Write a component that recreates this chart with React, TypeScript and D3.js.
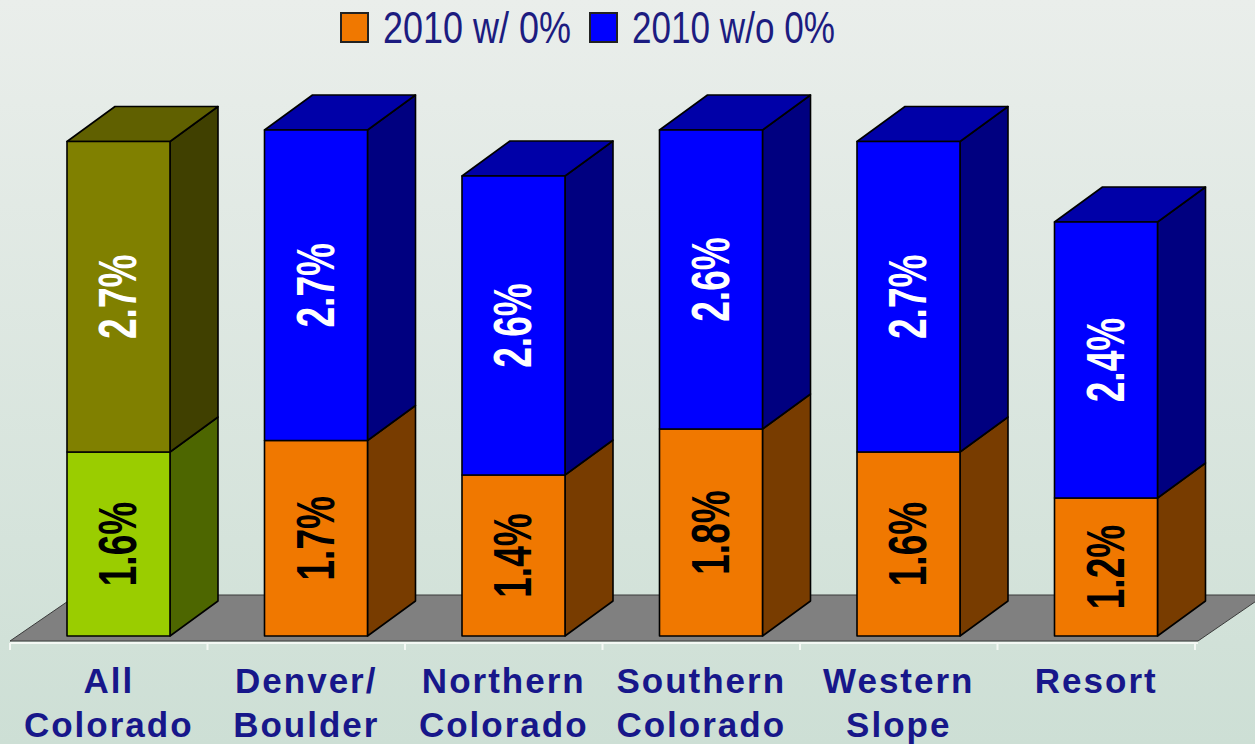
import React from "react";
import * as d3 from "d3";

const categories = [["All", "Colorado"], ["Denver/", "Boulder"], ["Northern", "Colorado"], ["Southern", "Colorado"], ["Western", "Slope"], ["Resort"]];
const withZero = [1.6, 1.7, 1.4, 1.8, 1.6, 1.2];
const withoutZero = [2.7, 2.7, 2.6, 2.6, 2.7, 2.4];
const seriesNames = ["2010 w/ 0%", "2010 w/o 0%"];

const W = 1255;
const H = 744;
const DX = 48;
const DY = -35;
const FDX = 67;
const FDY = -46;

const palette = {
  orange: { front: "#F07800", side: "#783C00", top: "#B45A00" },
  blue: { front: "#0000FF", side: "#000080", top: "#0000A8" },
  green: { front: "#9ACD00", side: "#4D6600", top: "#739A00" },
  olive: { front: "#808000", side: "#404000", top: "#606000" },
};

export default function App() {
  const keys = categories.map((c) => c.join(" "));
  const x = d3.scaleBand<string>().domain(keys).range([10, 1195]).paddingInner(0).paddingOuter(0);
  const y = d3.scaleLinear().domain([0, 5]).range([636, 61]);
  const barW = 103;
  const barOffset = 57;
  const floorY = 641;
  const [x0, x1] = x.range();

  const box = (xl: number, yb: number, yt: number, c: { front: string; side: string; top: string }, drawTop: boolean, key: string) => {
    const xr = xl + barW;
    return (
      <g key={key} stroke="#000" strokeWidth={1.6} strokeLinejoin="round">
        <polygon points={`${xr},${yb} ${xr + DX},${yb + DY} ${xr + DX},${yt + DY} ${xr},${yt}`} fill={c.side} />
        {drawTop && <polygon points={`${xl},${yt} ${xl + DX},${yt + DY} ${xr + DX},${yt + DY} ${xr},${yt}`} fill={c.top} />}
        <rect x={xl} y={yt} width={barW} height={yb - yt} fill={c.front} />
      </g>
    );
  };

  const label = (cx: number, cy: number, text: string, color: string, key: string) => (
    <text
      key={key}
      transform={`translate(${cx},${cy}) rotate(-90) scale(0.7,1)`}
      textAnchor="middle"
      dominantBaseline="central"
      fontFamily="'Liberation Sans', Arial, sans-serif"
      fontWeight="bold"
      fontSize={53}
      fill={color}
    >
      {text}
    </text>
  );

  return (
    <div style={{ position: "fixed", left: 0, top: 0 }}>
      <svg width={W} height={H} style={{ display: "block" }}>
        <defs>
          <linearGradient id="bg" x1="0" y1="0" x2="0" y2="1">
            <stop offset="0" stopColor="#EAEEEB" />
            <stop offset="1" stopColor="#CDDFD5" />
          </linearGradient>
        </defs>
        <rect width={W} height={H} fill="url(#bg)" />

        {/* floor */}
        <polygon
          points={`${x0},${floorY} ${x1 + 3},${floorY} ${x1 + 3 + FDX},${floorY + FDY} ${x0 + FDX},${floorY + FDY}`}
          fill="#808080"
          stroke="#3a3a3a"
          strokeWidth={1}
        />
        {/* axis line and ticks */}
        <line x1={x0} x2={x1 + 3} y1={floorY + 2} y2={floorY + 2} stroke="#F4F8F4" strokeWidth={2} />
        {[...keys.map((k) => x(k) as number), x1].map((t, i) => (
          <line key={"t" + i} x1={t} x2={t} y1={floorY + 2} y2={floorY + 9} stroke="#F4F8F4" strokeWidth={2} />
        ))}

        {/* bars */}
        {keys.map((k, i) => {
          const xl = (x(k) as number) + barOffset;
          const first = i === 0;
          const lowC = first ? palette.green : palette.orange;
          const highC = first ? palette.olive : palette.blue;
          const yb = y(0);
          const ym = y(withZero[i]);
          const yt = y(withZero[i] + withoutZero[i]);
          const cx = xl + barW / 2;
          return (
            <g key={k}>
              {box(xl, yb, ym, lowC, false, "low")}
              {box(xl, ym, yt, highC, true, "high")}
              {label(cx, (yb + ym) / 2, `${withZero[i].toFixed(1)}%`, "#000", "l1")}
              {label(cx, (ym + yt) / 2, `${withoutZero[i].toFixed(1)}%`, "#fff", "l2")}
            </g>
          );
        })}

        {/* category labels */}
        {categories.map((lines, i) => {
          const cx = (x(keys[i]) as number) + x.bandwidth() / 2;
          return (
            <text
              key={"c" + i}
              textAnchor="middle"
              fontFamily="'Liberation Sans', Arial, sans-serif"
              fontWeight="bold"
              fontSize={35}
              letterSpacing={2}
              fill="#17178A"
            >
              {lines.map((ln, j) => (
                <tspan key={j} x={cx} y={693 + j * 44}>
                  {ln}
                </tspan>
              ))}
            </text>
          );
        })}

        {/* legend */}
        <g>
          <rect x={341} y={13} width={27} height={29} fill={palette.orange.front} stroke="#222" strokeWidth={2} />
          <text transform="translate(383,43) scale(0.8,1)" fontFamily="'Liberation Sans', Arial, sans-serif" fontSize={45} fill="#1C1C80">
            {seriesNames[0]}
          </text>
          <rect x={590} y={13} width={27} height={29} fill={palette.blue.front} stroke="#222" strokeWidth={2} />
          <text transform="translate(632,43) scale(0.78,1)" fontFamily="'Liberation Sans', Arial, sans-serif" fontSize={45} fill="#1C1C80">
            {seriesNames[1]}
          </text>
        </g>
      </svg>
    </div>
  );
}
